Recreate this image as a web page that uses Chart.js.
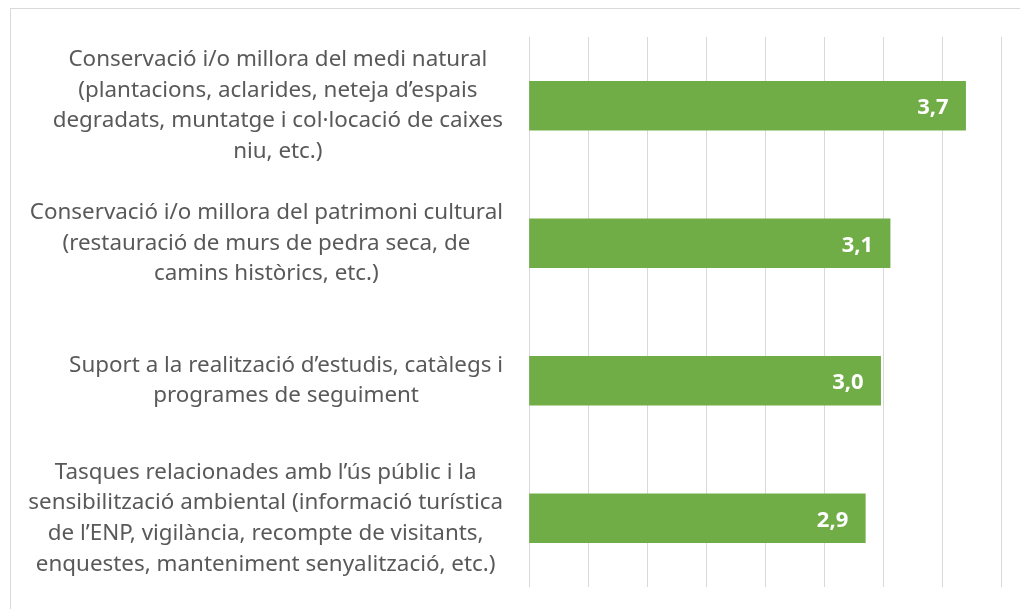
<!DOCTYPE html>
<html>
<head>
<meta charset="utf-8">
<script src="https://cdn.jsdelivr.net/npm/chart.js@4"></script>
<style>
    body { margin: 0; background: #fff; }
    #wrap { position: relative; width: 1020px; height: 609px; }
    #frame { position: absolute; left: 10px; top: 8px; width: 1020px; height: 620px; border: 1px solid #d9d9d9; box-sizing: border-box; }
    canvas { position: absolute; left: 0; top: 0; }
</style>
</head>
<body>
<div id="wrap">
    <div id="frame"></div>
    <canvas id="bar-chart" width="1020" height="609"></canvas>
</div>
<script>
const categories = [
    ['Conservació i/o millora del medi natural', '(plantacions, aclarides, neteja d’espais', 'degradats, muntatge i col·locació de caixes', 'niu, etc.)'],
    ['Conservació i/o millora del patrimoni cultural', '(restauració de murs de pedra seca, de', 'camins històrics, etc.)'],
    ['Suport a la realització d’estudis, catàlegs i', 'programes de seguiment'],
    ['Tasques relacionades amb l’ús públic i la', 'sensibilització ambiental (informació turística', 'de l’ENP, vigilància, recompte de visitants,', 'enquestes, manteniment senyalització, etc.)']
];
const values = [3.70, 3.06, 2.98, 2.85];
const valueLabels = ['3,7', '3,1', '3,0', '2,9'];

const labelFont = '22.4px "Noto Sans", "Open Sans", sans-serif';

// multi-line category labels: block right-aligned, lines centred inside it
const categoryLabels = {
    id: 'categoryLabels',
    afterDraw(chart) {
        const ctx = chart.ctx;
        const yScale = chart.scales.y;
        const right = 503;
        const lineH = 30.7;
        ctx.save();
        ctx.font = labelFont;
        ctx.fillStyle = '#595959';
        ctx.textAlign = 'center';
        ctx.textBaseline = 'middle';
        categories.forEach((lines, i) => {
            const y = yScale.getPixelForTick(i);
            const w = Math.max(...lines.map(l => ctx.measureText(l).width));
            const cx = right - w / 2;
            const top = y - (lines.length - 1) * lineH / 2;
            lines.forEach((l, j) => ctx.fillText(l, cx, top + j * lineH));
        });
        ctx.restore();
    }
};

const valueText = {
    id: 'valueText',
    afterDatasetsDraw(chart) {
        const ctx = chart.ctx;
        const meta = chart.getDatasetMeta(0);
        ctx.save();
        ctx.font = 'bold 22px "Noto Sans", "Open Sans", sans-serif';
        ctx.fillStyle = '#ffffff';
        ctx.textAlign = 'right';
        ctx.textBaseline = 'middle';
        meta.data.forEach((bar, i) => {
            ctx.fillText(valueLabels[i], bar.x - 17, bar.y + 2);
        });
        ctx.restore();
    }
};

new Chart(document.getElementById('bar-chart'), {
    type: 'bar',
    data: {
        labels: categories.map(c => c.join(' ')),
        datasets: [{
            data: values,
            backgroundColor: '#70ad47',
            borderWidth: 0,
            barThickness: 49
        }]
    },
    options: {
        indexAxis: 'y',
        responsive: false,
        animation: false,
        layout: { padding: { top: 37, bottom: 22, right: 19, left: 0 } },
        plugins: {
            legend: { display: false },
            tooltip: { enabled: false }
        },
        scales: {
            x: {
                min: 0,
                max: 4,
                ticks: { display: false, stepSize: 0.5 },
                grid: { color: '#d9d9d9', lineWidth: 1, drawTicks: false },
                border: { display: false },
                afterFit(scale) { scale.height = 0; }
            },
            y: {
                ticks: { display: false },
                grid: { display: false, drawTicks: false },
                border: { display: false },
                afterFit(scale) { scale.width = 529; }
            }
        }
    },
    plugins: [categoryLabels, valueText]
});
</script>
</body>
</html>
